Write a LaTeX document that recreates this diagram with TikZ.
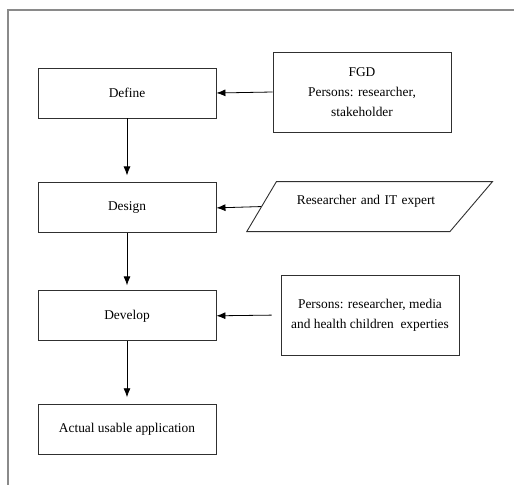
\documentclass[tikz,border=0pt]{standalone}
\usepackage{fontspec}
\setmainfont{Liberation Serif}
\usetikzlibrary{arrows.meta, positioning, shapes.geometric}
\definecolor{FrameGray}{HTML}{8A8A8A}
\definecolor{BoxGray}{HTML}{303030}

\begin{document}
\begin{tikzpicture}[
    x=1pt, y=-1pt,
    node distance=60pt,
    stage/.style={draw=BoxGray, line width=0.9pt, minimum width=178pt, minimum height=50pt, align=center, font=\fontsize{13.4}{20}\selectfont},
    actor/.style={stage, minimum height=80pt},
    slanted/.style={draw=BoxGray, line width=0.9pt, trapezium, trapezium left angle=50.6, trapezium right angle=139.7, trapezium stretches=true, minimum width=246pt, minimum height=50pt, inner xsep=0pt, text width=144pt, align=right, text depth=14pt, font=\fontsize{13.4}{20}\selectfont},
    arrow/.style={-{Latex[length=9pt, width=7pt]}, line width=0.8pt, black}
]
    \useasboundingbox (0,0) rectangle (514,485);
    \draw[FrameGray, line width=1.5pt] (514,10) -- (8,10) -- (8,485);

    % main flow
    \node[stage] (define) at (127,93) {Define};
    \node[stage, below=64pt of define] (design) {Design};
    \node[stage, below=57pt of design] (develop) {Develop};
    \node[stage, below=63pt of develop] (actual) {Actual usable application};

    % inputs
    \node[actor] (fgd) at (362,92) {FGD\\Persons: researcher,\\stakeholder};
    \node[slanted, anchor=bottom left corner] (expert) at (246,232) {Researcher and IT expert};
    \node[actor] (persons) at (370,315) {Persons: researcher, media\\and health children\ \ experties};

    \draw[arrow, shorten >=7pt] (define) -- (design);
    \draw[arrow, shorten >=5pt] (design) -- (develop);
    \draw[arrow, shorten >=7pt] (develop) -- (actual);
    \draw[arrow] (fgd.west) -- (define.east);
    \draw[arrow] (expert.west) -- (design.east);
    \draw[arrow, shorten <=9pt] (persons.west) -- (develop.east);
\end{tikzpicture}
\end{document}
